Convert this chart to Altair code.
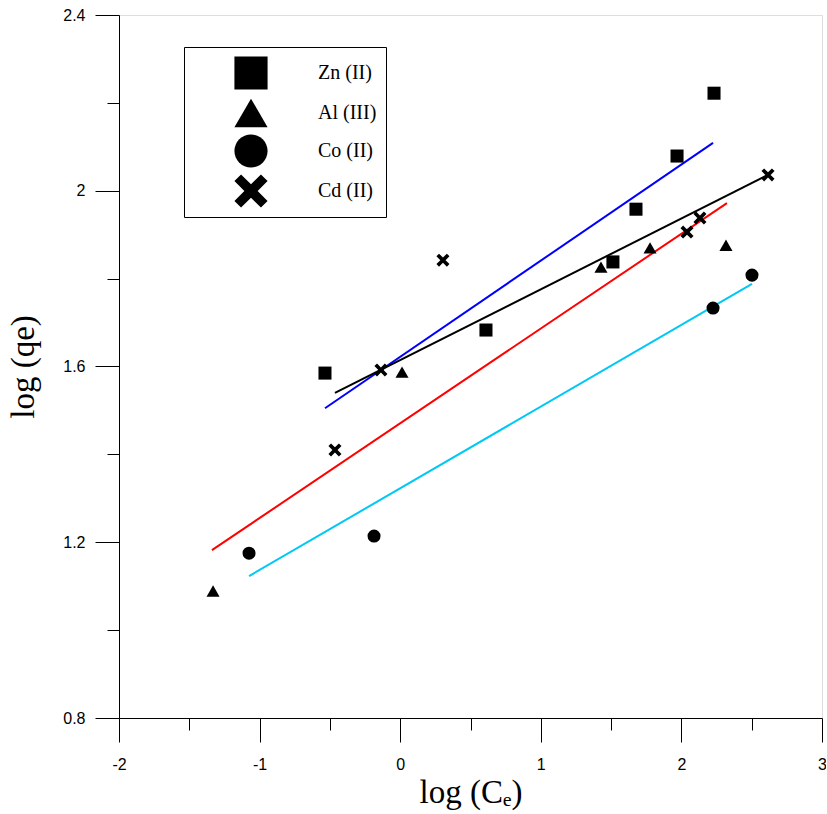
import altair as alt
import pandas as pd

# ---------------- data ----------------
metals = ["Zn (II)", "Al (III)", "Co (II)", "Cd (II)"]

zn_x = [-0.535, 0.61, 1.513, 1.677, 1.969, 2.232]
zn_y = [1.585, 1.683, 1.838, 1.958, 2.079, 2.222]
al_x = [-1.331, 0.013, 1.428, 1.777, 2.317]
al_y = [1.089, 1.587, 1.826, 1.870, 1.876]
co_x = [-1.075, -0.186, 2.225, 2.502]
co_y = [1.175, 1.214, 1.733, 1.808]
cd_x = [-0.464, -0.137, 0.304, 2.040, 2.132, 2.616]
cd_y = [1.410, 1.592, 1.842, 1.906, 1.938, 2.036]

# fitted lines (start / end points), same order as metals
fit_x0 = [-0.535, -1.339, -1.075, -0.464]
fit_x1 = [2.225, 2.324, 2.502, 2.616]
fit_y0 = [1.505, 1.182, 1.123, 1.540]
fit_y1 = [2.109, 1.972, 1.788, 2.036]

x_ticks = [-2, -1.5, -1, -0.5, 0, 0.5, 1, 1.5, 2, 2.5, 3]
y_ticks = [0.8, 1.0, 1.2, 1.4, 1.6, 1.8, 2.0, 2.2, 2.4]

# ---------------- styling ----------------
line_colors = ["#0000ff", "#ff0000", "#00c8f5", "#000000"]
X_PATH = ("M-0.6,-1L0,-0.4L0.6,-1L1,-0.6L0.4,0L1,0.6L0.6,1L0,0.4"
          "L-0.6,1L-1,0.6L-0.4,0L-1,-0.6Z")
shapes = ["square", "triangle-up", "circle", X_PATH]

rows = []
for m, xs, ys in zip(metals, [zn_x, al_x, co_x, cd_x], [zn_y, al_y, co_y, cd_y]):
    for a, b in zip(xs, ys):
        rows.append({"metal": m, "x": a, "y": b})
points_df = pd.DataFrame(rows)

lrows = []
for m, a0, a1, b0, b1 in zip(metals, fit_x0, fit_x1, fit_y0, fit_y1):
    lrows.append({"fit": m, "x": a0, "y": b0})
    lrows.append({"fit": m, "x": a1, "y": b1})
lines_df = pd.DataFrame(lrows)

xscale = alt.Scale(domain=[-2, 3], nice=False, zero=False)
yscale = alt.Scale(domain=[0.8, 2.4], nice=False, zero=False)

xaxis = alt.Axis(
    values=x_ticks,
    tickSize={"condition": {"test": "datum.value % 1 === 0", "value": 24}, "value": 12},
    labelExpr="datum.value % 1 === 0 ? '' + datum.value : ''",
    grid=False, labelFlush=False, labelOverlap=False,
    domainColor="black", tickColor="black", tickWidth=1,
    labelFont="Liberation Sans", labelFontSize=16, labelColor="black",
    labelPadding=14,
    title="log (C\u2091)", titleFont="Liberation Serif", titleFontSize=33,
    titleFontWeight="normal", titleColor="black", titlePadding=4,
)
yaxis = alt.Axis(
    values=y_ticks,
    tickSize={"condition": {"test": "abs(datum.value/0.4 - round(datum.value/0.4)) < 0.001",
                            "value": 24}, "value": 12},
    labelExpr="abs(datum.value/0.4 - round(datum.value/0.4)) < 0.001 ? '' + datum.value : ''",
    grid=False, labelFlush=False, labelOverlap=False,
    domainColor="black", tickColor="black", tickWidth=1,
    labelFont="Liberation Sans", labelFontSize=16, labelColor="black",
    labelPadding=10,
    title="log (qe)", titleFont="Liberation Serif", titleFontSize=33,
    titleFontWeight="normal", titleColor="black", titlePadding=22,
)

lines = alt.Chart(lines_df).mark_line(strokeWidth=2).encode(
    x=alt.X("x:Q", scale=xscale, axis=xaxis),
    y=alt.Y("y:Q", scale=yscale, axis=yaxis),
    color=alt.Color("fit:N", scale=alt.Scale(domain=metals, range=line_colors), legend=None),
    detail="fit:N",
)

points = alt.Chart(points_df).mark_point(filled=True, opacity=1, color="black", size=170).encode(
    x=alt.X("x:Q", scale=xscale, axis=xaxis),
    y=alt.Y("y:Q", scale=yscale, axis=yaxis),
    shape=alt.Shape(
        "metal:N",
        scale=alt.Scale(domain=metals, range=shapes),
        legend=alt.Legend(
            title=None, orient="none", legendX=65, legendY=32,
            symbolSize=1100, symbolFillColor="black", symbolStrokeColor="black",
            symbolStrokeWidth=0,
            labelFont="Liberation Serif", labelFontSize=20, labelColor="black",
            labelLimit=300, symbolOffset=41, labelOffset=50,
            strokeColor="black", fillColor="white", padding=9, rowPadding=6,
        ),
    ),
)

chart = alt.layer(lines, points).resolve_scale(color="independent").properties(
    width=703, height=703,
    autosize=alt.AutoSizeParams(type="none"),
    padding={"left": 119, "top": 15, "right": 4, "bottom": 96},
).configure_view(stroke="black", strokeWidth=1).configure(background="white")

chart.save("out.html", embed_options={"renderer": "svg", "actions": False})
